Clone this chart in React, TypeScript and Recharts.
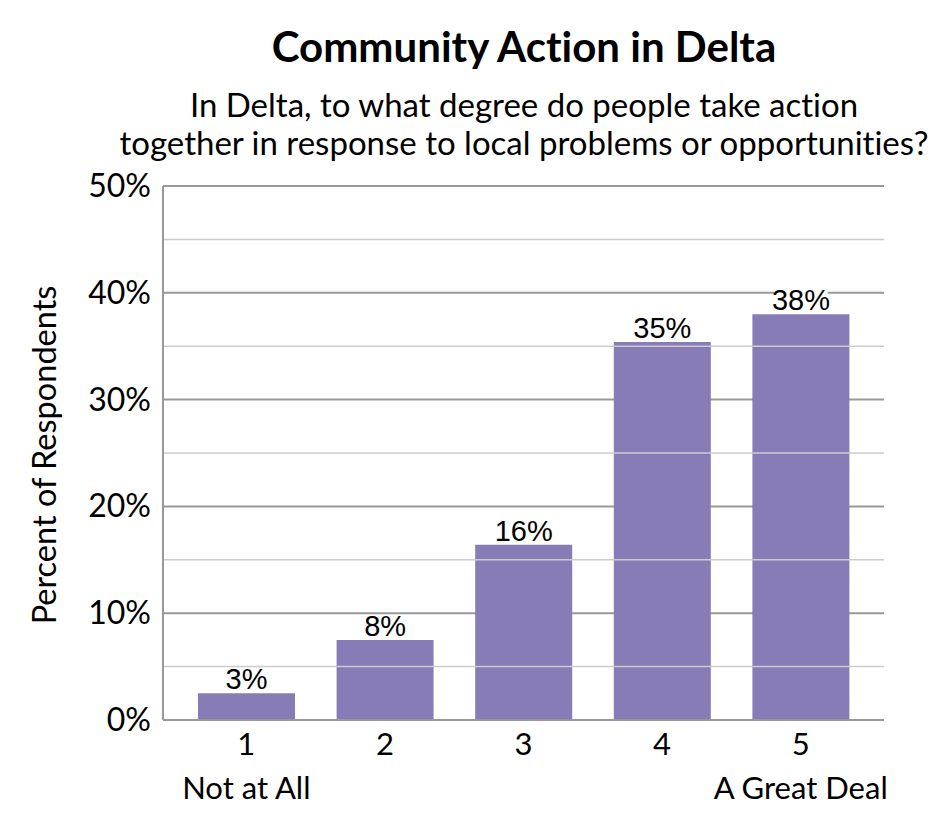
import React from 'react';
import { ComposedChart, Bar, XAxis, YAxis, CartesianGrid, ReferenceLine, LabelList } from 'recharts';

const categories = ['1', '2', '3', '4', '5'];
const subLabels = ['Not at All', '', '', '', 'A Great Deal'];
const values = [2.5, 7.5, 16.4, 35.4, 38.0];
const valueLabels = ['3%', '8%', '16%', '35%', '38%'];
const yTicks = [0, 10, 20, 30, 40, 50];
const minorTicks = [5, 15, 25, 35, 45];

const data = categories.map((c, i) => ({ cat: c, sub: subLabels[i], value: values[i], label: valueLabels[i] }));

const CAL = 'Lato, "Noto Sans", sans-serif';
const ARIAL = '"Liberation Sans", Arial, sans-serif';

const XTick = (props: any) => {
  const { x, y, payload, index } = props;
  const sub = subLabels[index] ?? '';
  return (
    <g>
      <text x={x} y={y} dy={27} textAnchor="middle" fontFamily={CAL} fontSize={31} fill="#000">{payload.value}</text>
      {sub ? <text x={x} y={y} dy={71} textAnchor="middle" fontFamily={CAL} fontSize={31} fill="#000">{sub}</text> : null}
    </g>
  );
};

const YTick = (props: any) => {
  const { x, y, payload } = props;
  return (
    <text x={x - 4} y={y} dy={11} textAnchor="end" fontFamily={CAL} fontSize={32} fill="#000">{payload.value}%</text>
  );
};

const renderLabel = (props: any) => {
  const { x, y, width, value } = props;
  const cx = x + width / 2;
  const tw = String(value).length * 16.5;
  return (
    <g>
      <rect x={cx - tw / 2 - 2} y={y - 24} width={tw + 4} height={22} fill="#fff" />
      <text x={cx} y={y - 4} textAnchor="middle" fontFamily={ARIAL} fontSize={29} fill="#000">{value}</text>
    </g>
  );
};

export default function App() {
  return (
    <div style={{ position: 'absolute', left: 0, top: 0, width: 945, height: 840, background: '#fff' }}>
      <div style={{ position: 'absolute', left: 0, top: 20, width: 1048, textAlign: 'center', fontFamily: CAL, fontWeight: 700, fontSize: 42, color: '#000', lineHeight: '52px', fontVariantLigatures: 'none' }}>
        Community Action in Delta
      </div>
      <div style={{ position: 'absolute', left: 0, top: 85, width: 1048, textAlign: 'center', fontFamily: CAL, fontSize: 33, color: '#000', lineHeight: '38px', whiteSpace: 'nowrap', fontVariantLigatures: 'none' }}>
        In Delta, to what degree do people take action<br />together in response to local problems or opportunities?
      </div>
      <div style={{ position: 'absolute', left: 0, top: 0 }}>
        <ComposedChart width={945} height={840} data={data} margin={{ top: 186, right: 61, bottom: 60, left: 103 }}>
          <CartesianGrid vertical={false} stroke="#999" strokeWidth={2} />
          {minorTicks.map((t) => (
            <ReferenceLine key={t} y={t} stroke="#ccc" strokeWidth={1.5} ifOverflow="extendDomain" />
          ))}
          <XAxis dataKey="cat" height={60} padding={{ left: 14, right: 14 }} tickLine={false} axisLine={{ stroke: '#999', strokeWidth: 2 }} tick={<XTick />} interval={0} />
          <YAxis yAxisId={0} width={60} domain={[0, 50]} ticks={yTicks} tickLine={false} axisLine={{ stroke: '#999', strokeWidth: 2 }} tick={<YTick />} />
          <YAxis yAxisId="right" orientation="right" width={0} domain={[0, 50]} ticks={yTicks} tick={false} tickLine={false} axisLine={{ stroke: '#999', strokeWidth: 2 }} />
          <Bar dataKey="value" fill="#877CB6" barSize={97} isAnimationActive={false}>
            <LabelList dataKey="label" content={renderLabel} />
          </Bar>
        </ComposedChart>
      </div>
      <svg width={100} height={840} style={{ position: 'absolute', left: 0, top: 0 }}>
        <text x={56} y={455} transform="rotate(-90, 56, 455)" textAnchor="middle" fontFamily={CAL} fontSize={32.5} fill="#000" style={{ fontVariantLigatures: 'none' }}>Percent of Respondents</text>
      </svg>
    </div>
  );
}
